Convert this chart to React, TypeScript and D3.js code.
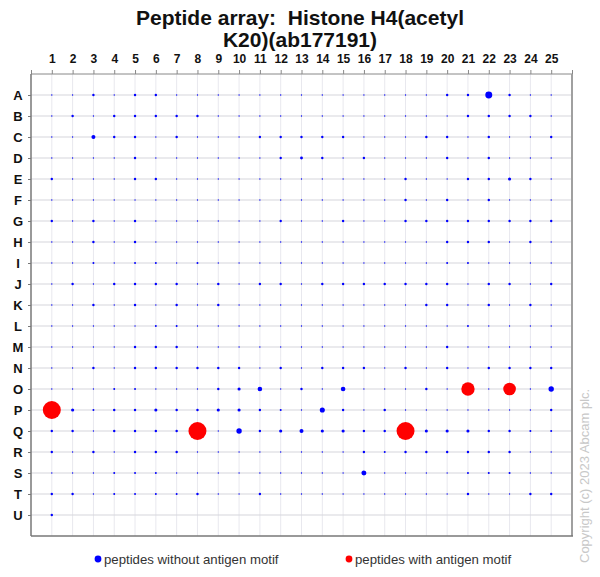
import { useRef, useEffect } from "react";
import * as d3 from "d3";

const title = ["Peptide array:  Histone H4(acetyl", "K20)(ab177191)"];
const rowLabels = ["A", "B", "C", "D", "E", "F", "G", "H", "I", "J", "K", "L", "M", "N", "O", "P", "Q", "R", "S", "T", "U"];
const colLabels = [1, 2, 3, 4, 5, 6, 7, 8, 9, 10, 11, 12, 13, 14, 15, 16, 17, 18, 19, 20, 21, 22, 23, 24, 25];

// spot signal, one array per row (columns 1..25)
const signal: number[][] = [
  [0.5, 0.5, 1.8, 0.5, 1.8, 1.8, 0.5, 0.5, 0.5, 0.5, 0.5, 0.5, 0.5, 0.5, 0.5, 0.5, 0.5, 0.5, 0.5, 1.8, 1.8, 15, 1.8, 0.5, 0.5],
  [0.5, 1.8, 0.5, 1.8, 1.8, 1.8, 1.8, 1.8, 0.5, 0.5, 0.5, 0.5, 0.5, 0.5, 0.5, 0.5, 0.5, 0.5, 0.5, 0.5, 1.8, 1.8, 1.8, 1.8, 0.5],
  [0.5, 0.5, 5, 1.8, 1.8, 0.5, 1.8, 0.5, 0.5, 0.5, 1.8, 1.8, 1.8, 1.8, 1.8, 0.5, 0.5, 0.5, 1.8, 1.8, 0.5, 1.8, 0.5, 0.5, 1.8],
  [0.5, 0.5, 0.5, 0.5, 1.8, 0.5, 0.5, 0.5, 0.5, 0.5, 0.5, 1.8, 2.5, 1.8, 0.5, 1.8, 0.5, 0.5, 0.5, 1.8, 0.5, 1.8, 0.5, 0.5, 0.5],
  [1.8, 0.5, 0.5, 0.5, 1.8, 1.8, 0.5, 0.5, 0.5, 0.5, 0.5, 0.5, 0.5, 0.5, 0.5, 0.5, 0.5, 1.8, 0.5, 0.5, 1.8, 1.8, 3, 1.8, 0.5],
  [0.5, 0.5, 0.5, 0.5, 0.5, 0.5, 0.5, 0.5, 0.5, 0.5, 0.5, 0.5, 0.5, 0.5, 0.5, 0.5, 0.5, 1.8, 0.5, 1.8, 0.5, 1.8, 0.5, 0.5, 0.5],
  [1.8, 0.5, 1.8, 0.5, 1.8, 0.5, 0.5, 0.5, 0.5, 0.5, 0.5, 1.8, 0.5, 0.5, 1.8, 0.5, 0.5, 1.8, 1.8, 1.8, 1.8, 1.8, 1.8, 1.8, 1.8],
  [0.5, 0.5, 1.8, 0.5, 1.8, 0.5, 0.5, 0.5, 0.5, 0.5, 0.5, 0.5, 0.5, 0.5, 0.5, 0.5, 0.5, 0.5, 0.5, 1.8, 1.8, 1.8, 0.5, 1.8, 0.5],
  [0.5, 0.5, 1.2, 0.5, 1.2, 1.2, 0.5, 1.2, 0.5, 0.5, 0.5, 0.5, 0.5, 0.5, 0.5, 0.5, 0.5, 0.5, 0.5, 1.2, 1.2, 0.5, 0.5, 0.5, 0.5],
  [0.5, 1.8, 0.5, 1.8, 1.8, 1.8, 1.8, 0.5, 1.8, 0.5, 1.8, 1.8, 0.5, 1.8, 1.8, 1.8, 1.8, 1.8, 1.8, 1.8, 0.5, 1.8, 1.8, 0.5, 1.8],
  [0.5, 0.5, 1.8, 0.5, 1.8, 0.5, 1.8, 0.5, 1.8, 0.5, 0.5, 0.5, 0.5, 0.5, 0.5, 0.5, 0.5, 0.5, 1.8, 1.8, 0.5, 1.8, 0.5, 1.8, 0.5],
  [0.5, 0.5, 0.5, 0.5, 0.5, 1.2, 1.2, 0.5, 0.5, 0.5, 0.5, 0.5, 0.5, 0.5, 0.5, 0.5, 0.5, 0.5, 0.5, 0.5, 1.2, 0.5, 0.5, 0.5, 0.5],
  [0.5, 0.5, 0.5, 0.5, 1.8, 1.8, 1.8, 0.5, 0.5, 0.5, 0.5, 0.5, 0.5, 0.5, 0.5, 0.5, 0.5, 0.5, 0.5, 1.8, 0.5, 0.5, 0.5, 0.5, 0.5],
  [0.5, 0.5, 1.8, 0.5, 1.8, 1.8, 1.8, 1.8, 1.8, 1.8, 0.5, 1.8, 0.5, 1.8, 1.8, 1.8, 0.5, 1.8, 0.5, 1.8, 0.5, 1.8, 1.8, 1.8, 1.8],
  [0.5, 0.5, 0.5, 1.2, 1.2, 0.5, 0.5, 0.5, 1.8, 3, 6.5, 0.5, 1.8, 0.5, 6.5, 0.5, 0.5, 0.5, 1.8, 0.5, 55, 0.5, 49, 0.5, 9],
  [100, 3, 1.2, 1.8, 1.8, 3, 1.8, 1.8, 3, 3, 1.8, 1.2, 0.5, 8, 1.8, 0.5, 1.8, 0.5, 0.5, 0.5, 0.5, 0.5, 0.5, 0.5, 1.8],
  [1.8, 1.8, 0.5, 1.8, 1.8, 1.8, 1.8, 100, 0.5, 9, 1.8, 3, 5, 3, 3, 1.8, 1.8, 100, 3, 3, 3, 1.8, 1.8, 1.2, 1.2],
  [1.8, 0.5, 1.8, 0.5, 1.8, 1.8, 1.8, 0.5, 0.5, 0.5, 0.5, 0.5, 0.5, 0.5, 0.5, 1.8, 1.2, 1.8, 1.8, 1.8, 1.8, 1.8, 1.8, 0.5, 0.5],
  [0.5, 0.5, 0.5, 1.2, 1.2, 1.2, 0.5, 0.5, 0.5, 0.5, 0.5, 0.5, 0.5, 0.5, 0.5, 7.7, 0.5, 0.5, 0.5, 0.5, 1.2, 1.2, 1.2, 0.5, 0.5],
  [1.8, 1.8, 0.5, 1.2, 1.2, 1.2, 1.2, 1.8, 0.5, 0.5, 1.8, 0.5, 0.5, 0.5, 0.5, 0.5, 0.5, 0.5, 0.5, 0.5, 1.8, 0.5, 0.5, 1.8, 1.8],
  [1.8],
];

// spots that carry the antigen motif
const motifSpots = ["P1", "Q8", "Q18", "O21", "O23"];

const legendItems = [
  { label: "peptides without antigen motif", color: "#0000ff" },
  { label: "peptides with antigen motif", color: "#ff0000" },
];

const copyright = "Copyright (c) 2023 Abcam plc.";

const W = 600;
const H = 577;
const FONT = "'Liberation Sans', Arial, sans-serif";

const PeptideArray = () => {
  const svgRef = useRef(null);

  useEffect(() => {
    if (!svgRef.current) return;
    const svg = d3.select(svgRef.current);
    svg.selectAll("*").remove();

    const left = 31,
      right = 572,
      top = 74,
      bottom = 536;

    const x = d3.scaleLinear().domain([0, colLabels.length + 1]).range([left, right]);
    const y = d3.scaleLinear().domain([0, rowLabels.length + 1]).range([top, bottom]);
    const r = d3.scaleSqrt().domain([0, 100]).range([0, 9]);

    // title (keep the double space)
    svg
      .append("g")
      .attr("font-family", FONT)
      .attr("font-weight", "bold")
      .attr("font-size", 21)
      .attr("text-anchor", "middle")
      .attr("fill", "#111")
      .selectAll("text")
      .data(title)
      .join("text")
      .attr("x", 300)
      .attr("y", (_, i) => 25 + i * 22)
      .style("white-space", "pre")
      .text((d) => d.replace(/  /g, " \u00a0"));

    // grid
    const grid = svg.append("g");
    grid
      .selectAll("line.v")
      .data(colLabels)
      .join("line")
      .attr("class", "v")
      .attr("x1", (d) => x(d))
      .attr("x2", (d) => x(d))
      .attr("y1", top)
      .attr("y2", bottom)
      .attr("stroke", "#e8e8ee")
      .attr("stroke-width", 1);
    grid
      .selectAll("line.h")
      .data(rowLabels)
      .join("line")
      .attr("class", "h")
      .attr("x1", left)
      .attr("x2", right)
      .attr("y1", (_, i) => y(i + 1))
      .attr("y2", (_, i) => y(i + 1))
      .attr("stroke", "#d6d6dc")
      .attr("stroke-width", 1.2);

    // frame
    svg
      .append("line")
      .attr("x1", left)
      .attr("x2", right)
      .attr("y1", top)
      .attr("y2", top)
      .attr("stroke", "#888");
    svg
      .append("line")
      .attr("x1", right)
      .attr("x2", right)
      .attr("y1", top)
      .attr("y2", bottom)
      .attr("stroke", "#a0a0a0")
      .attr("stroke-width", 2);
    svg
      .append("line")
      .attr("x1", left)
      .attr("x2", right + 1)
      .attr("y1", bottom)
      .attr("y2", bottom)
      .attr("stroke", "#777")
      .attr("stroke-width", 1.5);
    svg
      .append("line")
      .attr("x1", left)
      .attr("x2", left)
      .attr("y1", top)
      .attr("y2", bottom)
      .attr("stroke", "#777")
      .attr("stroke-width", 1.5);

    // top axis
    const topAxis = d3
      .axisTop(x)
      .tickValues(d3.range(0, colLabels.length + 2))
      .tickSizeInner(4)
      .tickSizeOuter(0)
      .tickFormat((d) => (colLabels.includes(+d) ? String(d) : ""));
    const gTop = svg.append("g").attr("transform", `translate(0,${top})`).call(topAxis);
    gTop.select(".domain").remove();
    gTop.selectAll(".tick line").attr("stroke", "#888");
    gTop
      .selectAll(".tick text")
      .attr("y", -11)
      .attr("font-family", FONT)
      .attr("font-weight", "bold")
      .attr("font-size", 12)
      .attr("fill", "#111");

    // left axis
    const yBand = d3.scalePoint().domain(rowLabels).range([y(1), y(rowLabels.length)]);
    const leftAxis = d3.axisLeft(yBand).tickSizeInner(3).tickSizeOuter(0).tickPadding(6);
    const gLeft = svg.append("g").attr("transform", `translate(${left},0)`).call(leftAxis);
    gLeft.select(".domain").remove();
    gLeft.selectAll(".tick line").attr("stroke", "#777");
    gLeft
      .selectAll(".tick text")
      .attr("text-anchor", "middle")
      .attr("x", -13)
      .attr("font-family", FONT)
      .attr("font-weight", "bold")
      .attr("font-size", 13)
      .attr("fill", "#111");

    // spots
    const spots = signal.flatMap((row, i) =>
      row.map((v, j) => ({
        row: i + 1,
        col: j + 1,
        v,
        motif: motifSpots.includes(rowLabels[i] + (j + 1)),
      }))
    );
    svg
      .append("g")
      .selectAll("circle")
      .data(spots)
      .join("circle")
      .attr("cx", (d) => x(d.col))
      .attr("cy", (d) => y(d.row))
      .attr("r", (d) => r(d.v))
      .attr("fill", (d) => (d.motif ? "#ff0000" : "#0000ff"));

    // legend
    const legend = svg
      .append("g")
      .attr("font-family", FONT)
      .attr("font-size", 13.2)
      .attr("fill", "#333");
    const legendX = [98, 349];
    legendItems.forEach((item, i) => {
      legend
        .append("circle")
        .attr("cx", legendX[i])
        .attr("cy", 559)
        .attr("r", 3.4)
        .attr("fill", item.color);
      legend
        .append("text")
        .attr("x", legendX[i] + 6)
        .attr("y", 563.5)
        .text(item.label);
    });

    // copyright
    svg
      .append("text")
      .attr("transform", `translate(589,563) rotate(-90)`)
      .attr("font-family", FONT)
      .attr("font-size", 13)
      .attr("fill", "#c8c8c8")
      .text(copyright);
  }, [svgRef]);

  return (
    <svg
      ref={svgRef}
      width={W}
      height={H}
      style={{ position: "absolute", left: 0, top: 0, background: "#fff" }}
    />
  );
};

export default function App() {
  return <PeptideArray />;
}
